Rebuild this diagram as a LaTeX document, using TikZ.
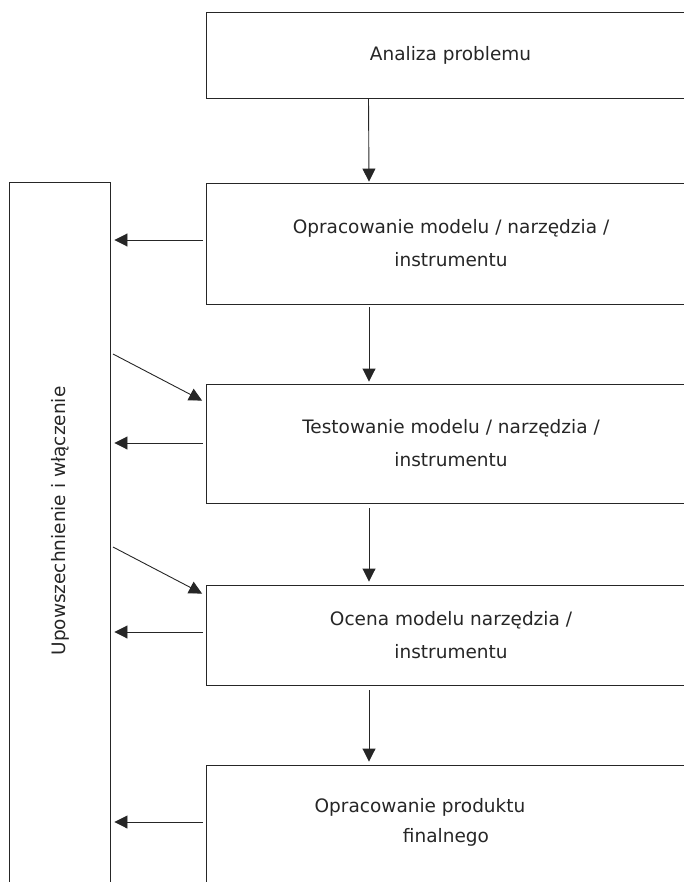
\documentclass[tikz,border=0pt]{standalone}
\usepackage{fontspec}
\setmainfont{DejaVu Sans}
\usetikzlibrary{arrows.meta}
\begin{document}
\begin{tikzpicture}[x=1pt,y=-1pt,
  line/.style={draw=black!85,line width=0.9pt},
  stage/.style={line,minimum width=489pt,inner sep=0pt,align=center,
    font=\fontsize{18.5pt}{33pt}\selectfont,text=black!85},
  arr/.style={line,-{Triangle[length=13pt,width=13pt]}}]
\useasboundingbox (0,0) rectangle (684,882);
\clip (0,0) rectangle (684,882);
% process stages
\node[stage,minimum height=86pt]  (b1) at (450.5,55)   {Analiza problemu};
\node[stage,minimum height=121pt] (b2) at (451,243.5)  {Opracowanie modelu / narzędzia /\\instrumentu};
\node[stage,minimum height=119pt] (b3) at (451,443.5)  {Testowanie modelu / narzędzia /\\instrumentu};
\node[stage,minimum height=100pt] (b4) at (451,635)    {Ocena modelu narzędzia /\\instrumentu};
\node[stage,minimum height=135pt] (b5) at (451,832.5)  {};
\node[align=center,font=\fontsize{18.5pt}{30pt}\selectfont,text=black!85]
  (t5) at (446,822) {Opracowanie produktu\hspace*{52pt}\\finalnego};
% dissemination column
\node[line,minimum width=101pt,minimum height=718pt,inner sep=0pt] (side) at (59.5,541) {};
\node[rotate=90,font=\fontsize{18.5pt}{22pt}\selectfont,text=black!85] (st) at (60,521) {Upowszechnienie i włączenie};
% main flow
\draw[arr] ([xshift=-82pt]b1.south) -- ([xshift=-82pt,yshift=1pt]b2.north);
\draw[arr] ([xshift=-82pt,yshift=-3pt]b2.south) -- ([xshift=-82pt,yshift=2pt]b3.north);
\draw[arr] ([xshift=-82pt,yshift=-5pt]b3.south) -- ([xshift=-82pt,yshift=3pt]b4.north);
\draw[arr] ([xshift=-82pt,yshift=-5pt]b4.south) -- ([xshift=-82pt,yshift=3pt]b5.north);
% feedback to dissemination
\draw[arr] ([xshift=-3pt,yshift=3.5pt]b2.west) -- ([xshift=4pt,yshift=3.5pt]b2.west -| side.east);
\draw[arr] ([xshift=-3pt,yshift=0.5pt]b3.west) -- ([xshift=4pt,yshift=0.5pt]b3.west -| side.east);
\draw[arr] ([xshift=-3pt,yshift=3pt]b4.west) -- ([xshift=4pt,yshift=3pt]b4.west -| side.east);
\draw[arr] ([xshift=-3pt,yshift=10.5pt]b5.west) -- ([xshift=4pt,yshift=10.5pt]b5.west -| side.east);
% inputs from dissemination
\coordinate (d1) at (113,354);
\coordinate (d2) at (113,547);
\draw[arr] (d1) -- ([xshift=-4pt,yshift=-17pt]b3.north west);
\draw[arr] (d2) -- ([xshift=-4pt,yshift=-9pt]b4.north west);
\end{tikzpicture}
\end{document}
